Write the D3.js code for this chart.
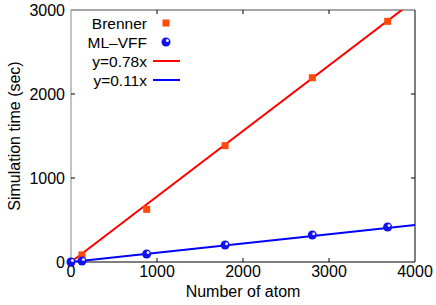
<!DOCTYPE html>
<html>
<head>
<meta charset="utf-8">
<script src="https://cdnjs.cloudflare.com/ajax/libs/d3/7.8.5/d3.min.js"></script>
<style>
body { margin: 0; background: #fff; }
svg text { font-family: "Liberation Sans", Arial, sans-serif; fill: #000; }
</style>
</head>
<body>
<div id="chart"></div>
<script>
// data
var atoms = [0, 128, 880, 1792, 2806, 3682];
var brenner = [0, 85, 627, 1385, 2194, 2865];
var mlvff = [0, 12, 95, 202, 321, 417];
var fits = [
    { label: "y=0.78x", slope: 0.78, color: "#ff0000" },
    { label: "y=0.11x", slope: 0.11, color: "#0000ff" }
];
var xTicks = [0, 1000, 2000, 3000, 4000];
var yTicks = [0, 1000, 2000, 3000];

var W = 436, H = 305;
var m = { left: 71, right: 21, top: 10, bottom: 43 };
var fs = 16;

var svg = d3.select("#chart").append("svg")
    .attr("width", W)
    .attr("height", H);

var x = d3.scaleLinear().domain([0, 4000]).range([m.left, W - m.right]);
var y = d3.scaleLinear().domain([0, 3000]).range([H - m.bottom, m.top]);

svg.append("clipPath").attr("id", "clip")
    .append("rect")
    .attr("x", m.left).attr("y", m.top)
    .attr("width", W - m.left - m.right)
    .attr("height", H - m.top - m.bottom);

// border: left/top grey, right/bottom black
var x0 = x(0), x1 = x(4000), y0 = y(0), y1 = y(3000);
svg.append("line").attr("x1", x0).attr("x2", x0).attr("y1", y0).attr("y2", y1).attr("stroke", "#888").attr("stroke-width", 1);
svg.append("line").attr("x1", x0).attr("x2", x1).attr("y1", y1).attr("y2", y1).attr("stroke", "#888").attr("stroke-width", 1.5);
svg.append("line").attr("x1", x1).attr("x2", x1).attr("y1", y0).attr("y2", y1).attr("stroke", "#000").attr("stroke-width", 1);
svg.append("line").attr("x1", x0).attr("x2", x1).attr("y1", y0).attr("y2", y0).attr("stroke", "#000").attr("stroke-width", 1);

// inward ticks
var tl = 4;
xTicks.slice(1, -1).forEach(function(t) {
    svg.append("line").attr("x1", x(t)).attr("x2", x(t)).attr("y1", y0).attr("y2", y0 - tl).attr("stroke", "#000");
    svg.append("line").attr("x1", x(t)).attr("x2", x(t)).attr("y1", y1).attr("y2", y1 + tl).attr("stroke", "#000");
});
yTicks.slice(1, -1).forEach(function(t) {
    svg.append("line").attr("x1", x0).attr("x2", x0 + tl).attr("y1", y(t)).attr("y2", y(t)).attr("stroke", "#000");
    svg.append("line").attr("x1", x1).attr("x2", x1 - tl).attr("y1", y(t)).attr("y2", y(t)).attr("stroke", "#000");
});

// tick labels
svg.selectAll(".xt").data(xTicks).enter().append("text")
    .attr("x", function(d) { return x(d); })
    .attr("y", y0 + 15)
    .attr("text-anchor", "middle")
    .style("font-size", fs + "px")
    .text(function(d) { return d; });

svg.selectAll(".yt").data(yTicks).enter().append("text")
    .attr("x", x0 - 6)
    .attr("y", function(d) { return y(d) + 5.5; })
    .attr("text-anchor", "end")
    .style("font-size", fs + "px")
    .text(function(d) { return d; });

// axis titles
svg.append("text")
    .attr("x", (x0 + x1) / 2).attr("y", 297)
    .attr("text-anchor", "middle")
    .style("font-size", fs + "px")
    .text("Number of atom");

svg.append("text")
    .attr("transform", "translate(19.5," + ((y0 + y1) / 2) + ") rotate(-90)")
    .attr("text-anchor", "middle")
    .style("font-size", fs + "px")
    .text("Simulation time (sec)");

// fit lines (clipped to the frame)
var plot = svg.append("g").attr("clip-path", "url(#clip)");
fits.forEach(function(f) {
    plot.append("line")
        .attr("x1", x(0)).attr("y1", y(0))
        .attr("x2", x(4000)).attr("y2", y(4000 * f.slope))
        .attr("stroke", f.color).attr("stroke-width", 2);
});

// points are drawn on top, not clipped
var pts = svg.append("g");

// Brenner squares
var sq = 7;
pts.selectAll(".br").data(atoms).enter().append("rect")
    .attr("x", function(d) { return x(d) - sq / 2; })
    .attr("y", function(d, i) { return y(brenner[i]) - sq / 2; })
    .attr("width", sq).attr("height", sq)
    .attr("fill", "#ff4a0a");

// ML-VFF balls
function ball(g, cx, cy) {
    g.append("circle").attr("cx", cx).attr("cy", cy).attr("r", 4.5).attr("fill", "#1010f0");
    g.append("circle").attr("cx", cx + 1.4).attr("cy", cy - 1.4).attr("r", 1.5).attr("fill", "#e8e8ff");
}
atoms.forEach(function(d, i) {
    ball(pts, x(d), y(mlvff[i]));
});

// legend
var lx = 147, ly = [23, 42, 61, 80];
var leg = svg.append("g");
["Brenner", "ML\u2013VFF"].concat(fits.map(function(f) { return f.label; })).forEach(function(s, i) {
    leg.append("text")
        .attr("x", lx).attr("y", ly[i] + 5.5)
        .attr("text-anchor", "end")
        .style("font-size", "15.5px")
        .text(s);
});
leg.append("rect").attr("x", 166 - sq / 2).attr("y", ly[0] - sq / 2).attr("width", sq).attr("height", sq).attr("fill", "#ff4a0a");
ball(leg, 166, ly[1]);
fits.forEach(function(f, i) {
    leg.append("line").attr("x1", 153).attr("x2", 180).attr("y1", ly[2 + i]).attr("y2", ly[2 + i])
        .attr("stroke", f.color).attr("stroke-width", 2);
});
</script>
</body>
</html>
